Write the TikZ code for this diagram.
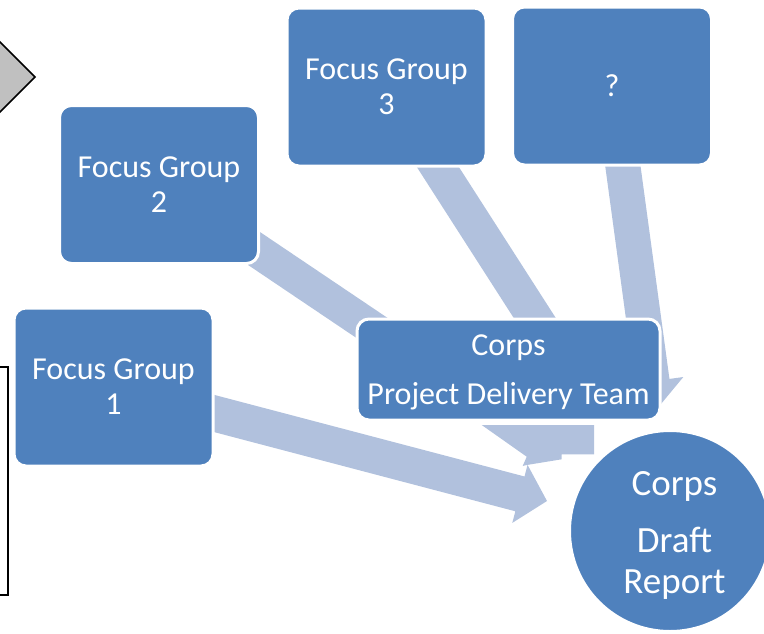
\documentclass[tikz,border=0pt]{standalone}
\usepackage{fontspec}
\setmainfont{Carlito}
\usetikzlibrary{calc}
\pgfdeclarelayer{bg}
\pgfsetlayers{bg,main}
\definecolor{boxblue}{RGB}{79,129,189}
\definecolor{arrowblue}{RGB}{177,193,221}
\definecolor{diamondgray}{RGB}{192,192,192}
\tikzset{
  bluebox/.style={draw=white, line width=3pt, fill=boxblue, rounded corners=12pt, align=center, text=white, inner sep=0pt, font=\fontsize{32}{35}\selectfont},
  fgbox/.style={bluebox, minimum width=199pt, minimum height=158pt},
  reportcircle/.style={circle, draw=white, line width=2pt, fill=boxblue, minimum size=200pt, inner sep=0pt},
  reporttext/.style={text=white, align=center, inner sep=0pt, font=\fontsize{37}{41}\selectfont},
  outline/.style={draw=black, line width=1.5pt},
}
% #1 start, #2 tip, #3 shaft half width, #4 head half width, #5 head length
\newcommand{\blockarrow}[5]{%
  \coordinate (hb) at ($(#2)!#5!(#1)$);
  \fill[arrowblue] ($(#1)!#3!90:(#2)$) -- ($(hb)!#3!90:(#2)$) -- ($(hb)!#4!90:(#2)$) -- (#2)
    -- ($(hb)!#4!-90:(#2)$) -- ($(hb)!#3!-90:(#2)$) -- ($(#1)!#3!-90:(#2)$) -- cycle;}
\begin{document}
\begin{tikzpicture}[x=1pt,y=-1pt]
\useasboundingbox (0,0) rectangle (764,633);
\clip (0,0) rectangle (764,633);
% partial shapes at the left edge
\draw[outline, fill=diamondgray] (35,77) -- (-20,22) -- (-75,77) -- (-20,132) -- cycle;
\draw[outline] (-20,367) rectangle (8,595);
% boxes
\node[fgbox] (fg1) at (113.5,387) {Focus Group\\1};
\node[fgbox] (fg2) at (159,184.5) {Focus Group\\2};
\node[fgbox] (fg3) at (386.5,87) {Focus Group\\3};
\node[fgbox] (q) at (612,86) {?};
\node[bluebox, minimum width=303pt, minimum height=101pt] (pdt) at (508.5,369.5) {\rule{0pt}{26.5pt}Corps\\[14pt]Project Delivery Team};
\node[reportcircle, label={[reporttext, name=reportlabel, xshift=4.5pt, yshift=-4.6pt]center:{Corps\\[16pt]Draft\\Report}}] (report) at (670,531) {};
% arrow tips
\coordinate (t1) at (547,501);
\coordinate (t2) at (430,367);
\coordinate (t3) at (581,390);
\coordinate (t4) at (656,410);
\begin{pgfonlayer}{bg}
  \blockarrow{fg1.center}{t1}{18pt}{30pt}{28pt}
  \blockarrow{fg2.center}{t2}{17pt}{30pt}{28pt}
  \blockarrow{fg3.center}{t3}{17.7pt}{30pt}{28pt}
  \blockarrow{q.center}{t4}{17.5pt}{31.5pt}{29pt}
  \fill[arrowblue] (481.7,425) -- (594,425) -- (594,454.3) -- (561.7,454.3) -- (561.7,459.3)
    -- (526.7,465) -- (522.7,466) -- (526.7,456.7) -- cycle;
\end{pgfonlayer}
\end{tikzpicture}
\end{document}
